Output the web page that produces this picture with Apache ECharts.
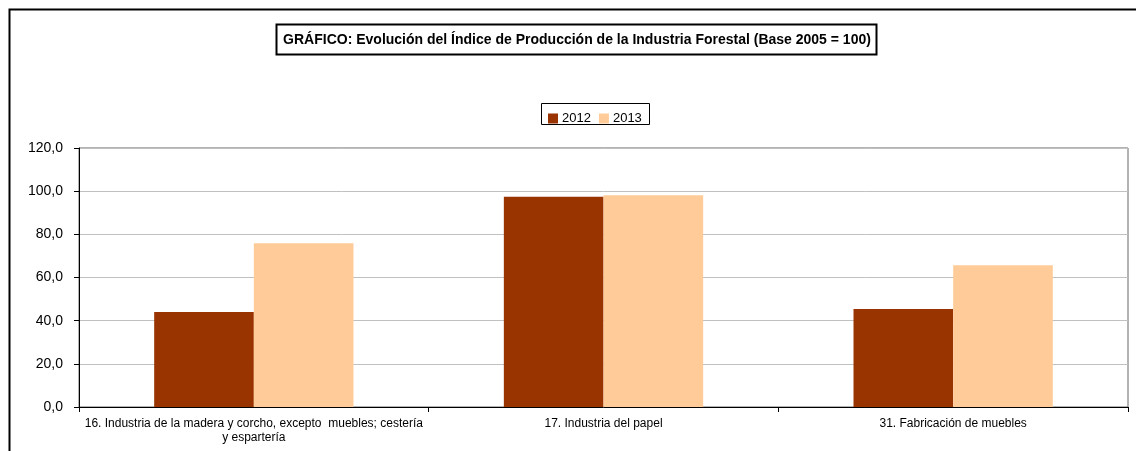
<!DOCTYPE html>
<html><head><meta charset="utf-8">
<script src="https://cdn.jsdelivr.net/npm/echarts@6/dist/echarts.min.js"></script>
<style>html,body{margin:0;padding:0;background:#fff}#c{width:1136px;height:451px}</style>
</head><body><div id="c"></div>
<script>
const categories = ['16. Industria de la madera y corcho, excepto  muebles; cestería\ny espartería', '17. Industria del papel', '31. Fabricación de muebles'];
const values2012 = [44.0, 97.4, 45.4];
const values2013 = [75.9, 98.1, 65.7];
const seriesNames = ['2012', '2013'];
const chart = echarts.init(document.getElementById('c'), null, {renderer: 'canvas'});
const font = '"Liberation Sans", Arial, sans-serif';
chart.setOption({
  animation: false,
  textStyle: {fontFamily: font},
  graphic: [
    {type: 'rect', shape: {x: 9.5, y: 9.5, width: 1140, height: 460}, style: {fill: 'none', stroke: '#000', lineWidth: 2}, silent: true},
    {type: 'rect', shape: {x: 276.5, y: 24.5, width: 600, height: 30}, style: {fill: '#fff', stroke: '#000', lineWidth: 2}, z: 10},
    {type: 'text', x: 577, y: 40, style: {text: 'GRÁFICO: Evolución del Índice de Producción de la Industria Forestal (Base 2005 = 100)', font: 'bold 14px ' + font, fill: '#000', align: 'center', verticalAlign: 'middle'}, z: 11},
    {type: 'rect', shape: {x: 541.5, y: 103.5, width: 108, height: 21}, style: {fill: 'none', stroke: '#000', lineWidth: 1}, z: 10}
  ],
  legend: {
    data: seriesNames, left: 543, top: 107, itemWidth: 10, itemHeight: 10, itemGap: 8,
    icon: 'rect', textStyle: {fontSize: 13, color: '#000', fontFamily: font, padding: [0, 0, 0, -1]}
  },
  grid: {left: 79, right: 8, top: 148, bottom: 44, show: true, borderColor: '#666', borderWidth: 1, containLabel: false},
  xAxis: {
    type: 'category', data: categories,
    axisLine: {lineStyle: {color: '#000'}},
    axisTick: {show: true, length: 5, lineStyle: {color: '#000'}},
    axisLabel: {fontSize: 12, color: '#000', fontFamily: font, lineHeight: 14, margin: 10, interval: 0}
  },
  yAxis: {
    type: 'value', min: 0, max: 120, interval: 20,
    axisLine: {show: true, lineStyle: {color: '#000'}},
    axisTick: {show: true, length: 5, lineStyle: {color: '#000'}},
    axisLabel: {fontSize: 14, color: '#000', fontFamily: font, margin: 16, formatter: v => v.toFixed(1).replace('.', ',')},
    splitLine: {lineStyle: {color: '#c0c0c0'}}
  },
  series: [
    {name: seriesNames[0], type: 'bar', data: values2012, itemStyle: {color: '#993300'}, barGap: '0%', barCategoryGap: '43%'},
    {name: seriesNames[1], type: 'bar', data: values2013, itemStyle: {color: '#FFCC99'}, barGap: '0%', barCategoryGap: '43%'}
  ]
});
</script></body></html>
